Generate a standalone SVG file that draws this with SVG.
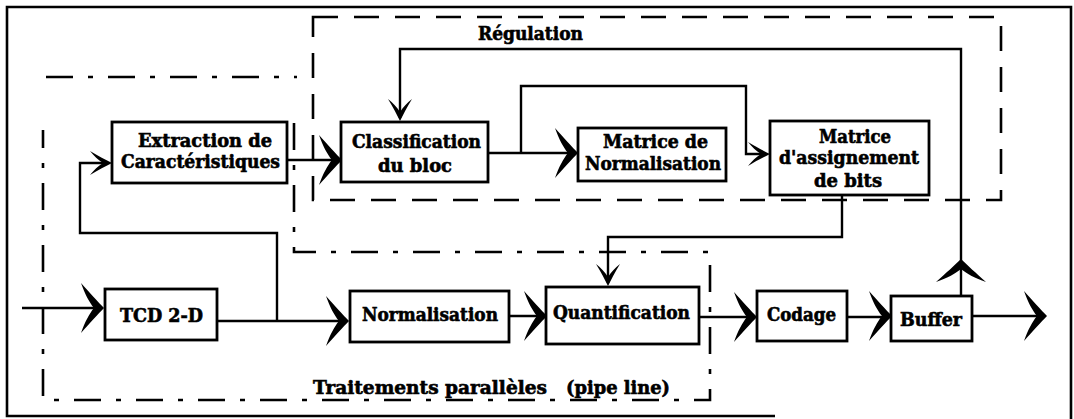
<svg xmlns="http://www.w3.org/2000/svg" xmlns:xlink="http://www.w3.org/1999/xlink" width="1074" height="419" viewBox="0 0 1074 419">
<style>
.box{fill:#fff;stroke:#000;stroke-width:2.8}
.lbl{font-family:"DejaVu Serif","Liberation Serif",serif;font-weight:bold;font-size:18px;fill:#000;stroke:#000;stroke-width:0.6}
.dash{fill:none;stroke:#000;stroke-width:2.6;stroke-dasharray:25 16}
.dashdot{fill:none;stroke:#000;stroke-width:2.6;stroke-dasharray:27 15 5 15}
.wire{fill:none;stroke:#000;stroke-width:2.4}
.head{fill:#000;stroke:none}
</style>
<defs>
<path id="abig" d="M0,0 C-6,-6 -14,-15 -23,-25 C-19,-14 -15,-6 -10,0 C-15,6 -19,14 -23,25 C-14,15 -6,6 0,0 Z"/>
<path id="asmall" d="M0,0 C-6,-3 -14,-7 -22,-12 C-18,-7 -14,-3 -9,0 C-14,3 -18,7 -22,12 C-14,7 -6,3 0,0 Z"/>
</defs>
<rect x="0" y="0" width="1074" height="419" fill="#fff"/>
<g id="frame" fill="none" stroke="#000" stroke-width="2.6">
<path d="M775,416 H7 V7 H1071 V419"/>
</g>
<g id="regulation-zone">
<rect class="dash" x="313" y="17" width="688" height="183"/>
<text class="lbl" x="478" y="40" textLength="105" lengthAdjust="spacingAndGlyphs">Régulation</text>
</g>
<g id="pipeline-zone">
<path class="dashdot" d="M46,77 H297"/>
<path class="dashdot" d="M294,123 V252 H710 V400 H43 V130"/>
<text class="lbl" y="394"><tspan x="313" textLength="234" lengthAdjust="spacingAndGlyphs">Traitements parallèles</tspan><tspan x="566" textLength="104" lengthAdjust="spacingAndGlyphs">(pipe line)</tspan></text>
</g>
<g id="connectors">
<path class="wire" d="M22,308 H100"/>
<path class="wire" d="M217,321 H345"/>
<path class="wire" d="M277,321 V233 H80 V163 H108"/>
<path class="wire" d="M287,160 H338"/>
<path class="wire" d="M509,316 H544"/>
<path class="wire" d="M699,317 H754"/>
<path class="wire" d="M847,317 H889"/>
<path class="wire" d="M972,316 H1044"/>
<path class="wire" d="M961,296 V49 H400 V118"/>
<path class="wire" d="M488,153 H575"/>
<path class="wire" d="M521,153 V86 H746 V154 H766"/>
<path class="wire" d="M842,195 V237 H608 V283"/>
<use class="head" xlink:href="#abig" transform="translate(104,308)"/>
<use class="head" xlink:href="#abig" transform="translate(349,321)"/>
<use class="head" xlink:href="#asmall" transform="translate(112,163)"/>
<use class="head" xlink:href="#abig" transform="translate(342,160)"/>
<use class="head" xlink:href="#abig" transform="translate(547,316)"/>
<use class="head" xlink:href="#abig" transform="translate(757,317)"/>
<use class="head" xlink:href="#abig" transform="translate(892,316)"/>
<use class="head" xlink:href="#abig" transform="translate(1047,316)"/>
<use class="head" xlink:href="#abig" transform="translate(961,259) rotate(-90)"/>
<use class="head" xlink:href="#asmall" transform="translate(400,121) rotate(90)"/>
<use class="head" xlink:href="#abig" transform="translate(578,153)"/>
<use class="head" xlink:href="#asmall" transform="translate(770,154)"/>
<use class="head" xlink:href="#asmall" transform="translate(608,286) rotate(90)"/>
</g>
<g id="extraction">
<rect class="box" x="112" y="122" width="175" height="61"/>
<text class="lbl" x="138" y="147" textLength="134" lengthAdjust="spacingAndGlyphs">Extraction de</text>
<text class="lbl" x="121" y="168" textLength="159" lengthAdjust="spacingAndGlyphs">Caractéristiques</text>
</g>
<g id="classification">
<rect class="box" x="341" y="122" width="147" height="60"/>
<text class="lbl" x="352" y="148" textLength="129" lengthAdjust="spacingAndGlyphs">Classification</text>
<text class="lbl" x="378" y="172" textLength="74" lengthAdjust="spacingAndGlyphs">du bloc</text>
</g>
<g id="matrice-normalisation">
<rect class="box" x="578" y="128" width="148" height="53"/>
<text class="lbl" x="603" y="148" textLength="105" lengthAdjust="spacingAndGlyphs">Matrice de</text>
<text class="lbl" x="585" y="170" textLength="136" lengthAdjust="spacingAndGlyphs">Normalisation</text>
</g>
<g id="matrice-assignement">
<rect class="box" x="770" y="121" width="159" height="74"/>
<text class="lbl" x="819" y="143" textLength="72" lengthAdjust="spacingAndGlyphs">Matrice</text>
<text class="lbl" x="779" y="164" textLength="140" lengthAdjust="spacingAndGlyphs">d'assignement</text>
<text class="lbl" x="814" y="187" textLength="68" lengthAdjust="spacingAndGlyphs">de bits</text>
</g>
<g id="tcd">
<rect class="box" x="105" y="289" width="112" height="51"/>
<text class="lbl" x="120" y="322" textLength="83" lengthAdjust="spacingAndGlyphs">TCD 2-D</text>
</g>
<g id="normalisation">
<rect class="box" x="350" y="291" width="159" height="51"/>
<text class="lbl" x="362" y="321" textLength="136" lengthAdjust="spacingAndGlyphs">Normalisation</text>
</g>
<g id="quantification">
<rect class="box" x="546" y="287" width="153" height="57"/>
<text class="lbl" x="553" y="319" textLength="137" lengthAdjust="spacingAndGlyphs">Quantification</text>
</g>
<g id="codage">
<rect class="box" x="757" y="291" width="90" height="50"/>
<text class="lbl" x="767" y="321" textLength="69" lengthAdjust="spacingAndGlyphs">Codage</text>
</g>
<g id="buffer">
<rect class="box" x="891" y="296" width="81" height="45"/>
<text class="lbl" x="900" y="326" textLength="62" lengthAdjust="spacingAndGlyphs">Buffer</text>
</g>
</svg>
